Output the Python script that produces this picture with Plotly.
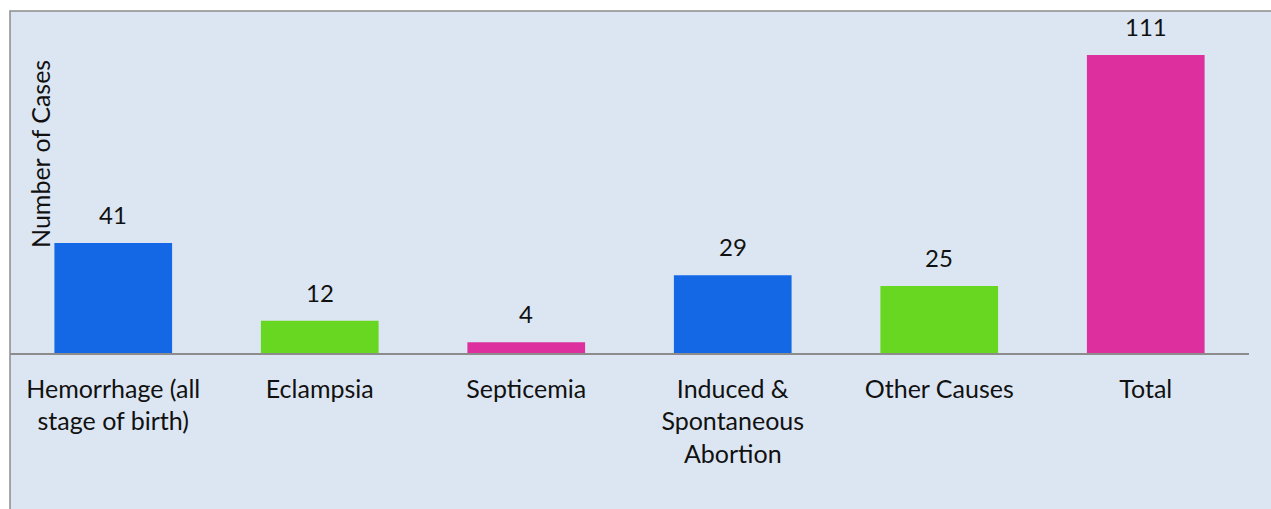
import plotly.graph_objects as go

# causes of maternal death and number of cases
causes = ['Hemorrhage (all<br>stage of birth)', 'Eclampsia', 'Septicemia',
          'Induced &<br>Spontaneous<br>Abortion', 'Other Causes', 'Total']
cases = [41, 12, 4, 29, 25, 111]
bar_colors = ['#1468E6', '#67D721', '#DD309E', '#1468E6', '#67D721', '#DD309E']

BG = '#DCE6F2'
FONT = 'Lato, Open Sans, sans-serif'

fig = go.Figure()

fig.add_trace(go.Bar(x=causes, y=cases,
                     marker=dict(color=bar_colors, line=dict(width=0)),
                     showlegend=False, hoverinfo='x+y'))

# value labels above each bar
for c, v in zip(causes, cases):
  fig.add_annotation(x=c, y=v, text=str(v), showarrow=False,
                     yanchor='bottom', yshift=12,
                     font=dict(family=FONT, size=24, color='#111111'))

# y axis title drawn inside the plot area like the original
fig.add_annotation(xref='paper', yref='paper', x=0.0242, y=0.582,
                   xanchor='center', yanchor='middle',
                   text='Number of Cases', textangle=-90, showarrow=False,
                   font=dict(family=FONT, size=25, color='#111111'))

# light chart background with a gray border on left and top
fig.add_shape(type='rect', xref='paper', yref='paper', layer='below',
              x0=0, x1=1.1, y0=-0.7, y1=1,
              fillcolor=BG, line=dict(color='#8C8C8C', width=1.5))

fig.update_layout(width=1271, height=509,
                  margin=dict(l=10, r=22, t=11, b=156),
                  paper_bgcolor='white', plot_bgcolor=BG,
                  bargap=0.43,
                  font=dict(family=FONT, size=25, color='#111111'))

fig.update_xaxes(showline=True, linecolor='#8C8C8C', linewidth=1.5,
                 showgrid=False, ticks='', ticklabelstandoff=13,
                 tickfont=dict(family=FONT, size=25, color='#111111'))
fig.update_yaxes(range=[0, 127.4], showgrid=False, zeroline=False,
                 showticklabels=False, showline=False)

# drop the default page margin so the figure fills the window
fig.write_html("out.html",
               config={'displayModeBar': False},
               post_script="document.body.style.margin='0';"
                           "document.body.style.overflow='hidden';")
